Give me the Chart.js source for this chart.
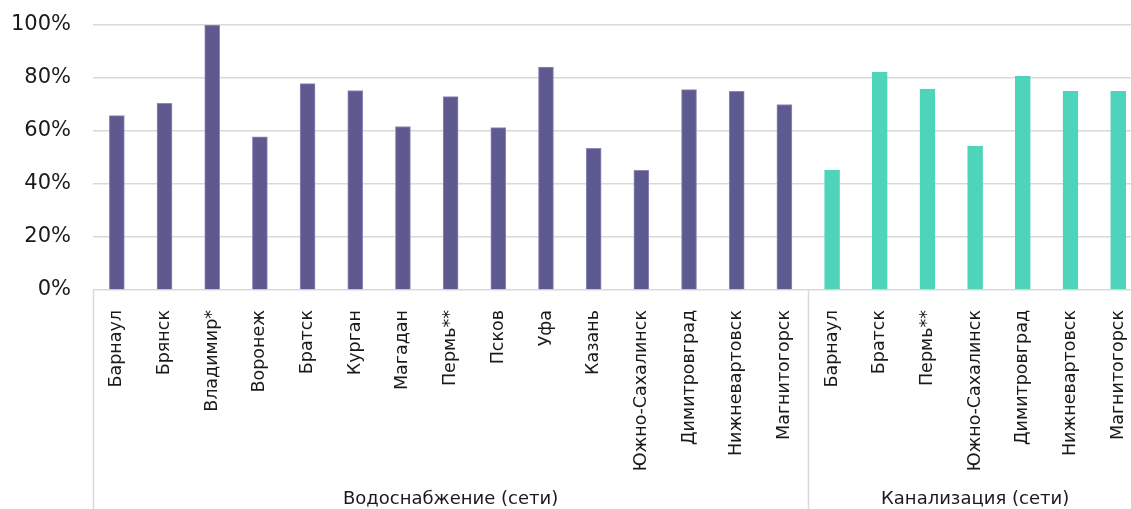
<!DOCTYPE html>
<html>
<head>
<meta charset="utf-8">
<script src="https://cdn.jsdelivr.net/npm/chart.js@4"></script>
<style>
  html, body { margin: 0; padding: 0; background: #fff; overflow: hidden; }
  #wrap { position: relative; width: 1142px; height: 509px; }
</style>
</head>
<body>
<div id="wrap"><canvas id="c"></canvas></div>
<script>
// Share of worn-out networks by city
const waterGroup = 'Водоснабжение (сети)';
const sewerGroup = 'Канализация (сети)';

const waterCities = ['Барнаул', 'Брянск', 'Владимир*', 'Воронеж', 'Братск', 'Курган', 'Магадан',
  'Пермь**', 'Псков', 'Уфа', 'Казань', 'Южно-Сахалинск', 'Димитровград', 'Нижневартовск', 'Магнитогорск'];
const waterValues = [65.8, 70.4, 100, 57.8, 77.9, 75.3, 61.7, 73.0, 61.3, 84.1, 53.5, 45.2, 75.6, 75.0, 70.0];

const sewerCities = ['Барнаул', 'Братск', 'Пермь**', 'Южно-Сахалинск', 'Димитровград', 'Нижневартовск', 'Магнитогорск'];
const sewerValues = [45.2, 82.2, 75.8, 54.3, 80.7, 75.0, 75.0];

const yTicks = [0, 20, 40, 60, 80, 100];

const waterColor = '#5e5a8f';
const sewerColor = '#4ed4ba';

const labels = [...waterCities, ...sewerCities];
const values = [...waterValues, ...sewerValues];
const colors = [...waterCities.map(() => waterColor), ...sewerCities.map(() => sewerColor)];
const borders = [...waterCities.map(() => '#8e8ab8'), ...sewerCities.map(() => sewerColor)];

// Group captions sit under the middle category of each group
const groups = [
  { name: waterGroup, start: 0, count: waterCities.length },
  { name: sewerGroup, start: waterCities.length, count: sewerCities.length }
];
const groupTickLabels = labels.map(() => '');
groups.forEach(g => { groupTickLabels[g.start + Math.floor(g.count / 2)] = g.name; });

// Vertical dividers under the axis, at the left edge of each group
const groupDividers = {
  id: 'groupDividers',
  afterDraw(chart) {
    const x = chart.scales.x;
    const ctx = chart.ctx;
    const half = (x.getPixelForValue(1) - x.getPixelForValue(0)) / 2;
    ctx.save();
    ctx.strokeStyle = '#d9d9d9';
    ctx.lineWidth = 1.5;
    groups.forEach(g => {
      const px = Math.round(x.getPixelForValue(g.start) - half) + 0.5;
      ctx.beginPath();
      ctx.moveTo(px, chart.chartArea.bottom);
      ctx.lineTo(px, chart.height);
      ctx.stroke();
    });
    ctx.restore();
  }
};

// Keep the plot area edges free of the automatic label overhang
function noEdgePadding(scale) {
  scale.paddingLeft = 0;
  scale.paddingRight = 0;
  scale.paddingTop = 0;
  scale.paddingBottom = 0;
}

new Chart(document.getElementById('c'), {
  type: 'bar',
  data: {
    labels: labels,
    datasets: [{
      data: values,
      backgroundColor: colors,
      borderColor: borders,
      borderWidth: 1,
      barThickness: 15
    }]
  },
  options: {
    responsive: true,
    maintainAspectRatio: false,
    animation: false,
    layout: { padding: { top: 25, right: 0, bottom: 0, left: 0 } },
    plugins: { legend: { display: false }, tooltip: { enabled: false } },
    scales: {
      x: {
        type: 'category',
        position: 'bottom',
        grid: { display: false },
        border: { display: false },
        ticks: {
          autoSkip: false,
          minRotation: 90,
          maxRotation: 90,
          padding: 12,
          color: '#1a1a1a',
          font: { family: 'DejaVu Sans', size: 17.5 }
        },
        afterFit(scale) { scale.height = 190; noEdgePadding(scale); }
      },
      group: {
        type: 'category',
        position: 'bottom',
        labels: groupTickLabels,
        grid: { display: false, drawTicks: false },
        border: { display: false },
        ticks: {
          autoSkip: false,
          maxRotation: 0,
          minRotation: 0,
          padding: 9,
          color: '#1a1a1a',
          font: { family: 'DejaVu Sans', size: 18 }
        },
        afterFit(scale) { scale.height = 29; noEdgePadding(scale); }
      },
      y: {
        min: 0,
        max: 100,
        afterBuildTicks(scale) { scale.ticks = yTicks.map(v => ({ value: v })); },
        grid: { color: '#d9d9d9', lineWidth: 1.5, drawTicks: false },
        border: { display: false },
        ticks: {
          padding: 22,
          color: '#1a1a1a',
          font: { family: 'DejaVu Sans', size: 21 },
          callback: v => v + '%'
        },
        afterFit(scale) { scale.width = 93; noEdgePadding(scale); }
      }
    }
  },
  plugins: [groupDividers]
});
</script>
</body>
</html>
